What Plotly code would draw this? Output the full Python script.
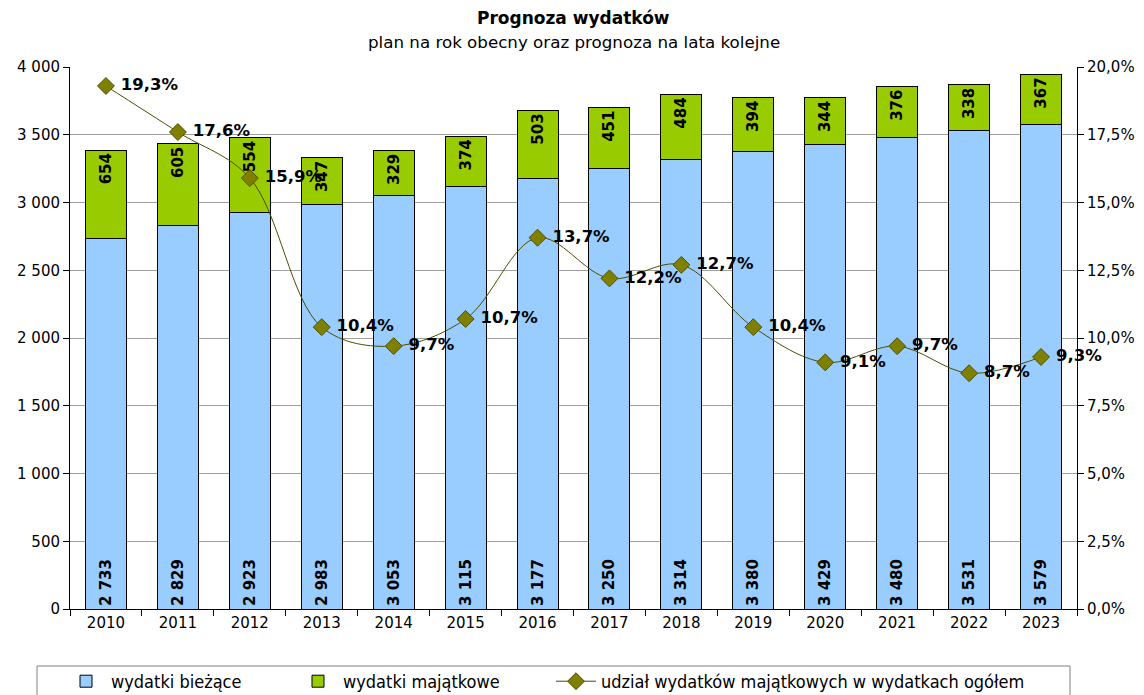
import plotly.graph_objects as go

years = ["2010","2011","2012","2013","2014","2015","2016","2017","2018","2019","2020","2021","2022","2023"]
biezace = [2733,2829,2923,2983,3053,3115,3177,3250,3314,3380,3429,3480,3531,3579]
majatkowe = [654,605,554,347,329,374,503,451,484,394,344,376,338,367]
udzial = [19.3,17.6,15.9,10.4,9.7,10.7,13.7,12.2,12.7,10.4,9.1,9.7,8.7,9.3]

FONT = "Verdana, DejaVu Sans, sans-serif"
LEGFONT = "DejaVu Sans Condensed, DejaVu Sans"

def fmt_int(v):
    return f"{v:,}".replace(",", " ")

fig = go.Figure()
fig.add_trace(go.Bar(
    x=years, y=biezace, name="wydatki bieżące", legend="legend",
    marker=dict(color="#99CCFF", line=dict(color="#000000", width=1)),
    text=[fmt_int(v) for v in biezace], textposition="inside",
    insidetextanchor="start", textangle=-90, constraintext="none",
    textfont=dict(family=FONT, size=15, color="black", weight="bold"),
    width=0.57,
))
fig.add_trace(go.Bar(
    x=years, y=majatkowe, name="wydatki majątkowe", legend="legend2",
    marker=dict(color="#99CC00", line=dict(color="#000000", width=1)),
    text=[fmt_int(v) for v in majatkowe], textposition="inside",
    insidetextanchor="end", textangle=-90, constraintext="none",
    textfont=dict(family=FONT, size=15, color="black", weight="bold"),
    width=0.57,
))
fig.add_trace(go.Scatter(
    x=years, y=udzial, name="udział wydatków majątkowych w wydatkach ogółem", legend="legend3",
    yaxis="y2", mode="lines+markers+text", cliponaxis=False,
    line=dict(color="#4D4D00", width=1, shape="spline", smoothing=1),
    marker=dict(symbol="diamond", size=13, color="#808000", line=dict(color="#4D4D00", width=1)),
    text=[" " + f"{v:.1f}".replace(".", ",") + "%" for v in udzial],
    textposition="middle right",
    textfont=dict(family=FONT, size=16.5, color="black", weight="bold"),
))

# page offset of 8px (body margin) compensated
OFF = 8
T, B, L, R = 67 - OFF, 86 + OFF, 70 - OFF, 67 + OFF
W, H = 1144, 695
ph = H - T - B
pw = W - L - R

def px2paper_x(px):
    return (px - OFF - L) / pw

def py2paper_y(py):
    return 1 - (py - OFF - T) / ph

def legend_at(page_x):
    return dict(orientation="h", x=(page_x - OFF) / W, xanchor="left", xref="container",
                y=1 - (663 - OFF) / H, yanchor="top", yref="container",
                borderwidth=0, bgcolor="rgba(0,0,0,0)",
                font=dict(size=18, family=LEGFONT), itemwidth=40)

fig.update_layout(
    width=W, height=H,
    barmode="stack",
    separators=", ",
    paper_bgcolor="white", plot_bgcolor="white",
    margin=dict(l=L, r=R, t=T, b=B, autoexpand=False),
    font=dict(family=FONT, size=15, color="black"),
    showlegend=True,
    legend=legend_at(61),
    legend2=legend_at(293),
    legend3=legend_at(551),
    xaxis=dict(type="category", range=[-0.5, 13.5], showline=True, linecolor="black", linewidth=1,
               ticks="outside", tickson="boundaries", ticklen=6, tickcolor="black",
               tickfont=dict(size=15), automargin=False),
    yaxis=dict(range=[0, 4000], dtick=500, tickformat=",d", showline=True, linecolor="black",
               ticks="outside", ticklen=6, tickcolor="black", showgrid=True, gridcolor="#A0A0A0",
               gridwidth=1, zeroline=False, tickfont=dict(size=15), automargin=False),
    yaxis2=dict(range=[0, 20], dtick=2.5, tickformat=".1f", ticksuffix="%", overlaying="y",
                side="right", showline=True, linecolor="black", ticks="outside", ticklen=6,
                tickcolor="black", showgrid=False, zeroline=False, tickfont=dict(size=15),
                automargin=False),
    shapes=[dict(type="rect", xref="paper", yref="paper",
                 x0=px2paper_x(37), x1=px2paper_x(1070),
                 y0=py2paper_y(666), y1=py2paper_y(705),
                 line=dict(color="#808080", width=1), fillcolor="rgba(0,0,0,0)", layer="below")],
    annotations=[
        dict(text="<b>Prognoza wydatków</b>", x=0.5, xref="paper", y=1 + (67 - 18) / ph,
             yref="paper", yanchor="middle", showarrow=False, font=dict(size=17)),
        dict(text="plan na rok obecny oraz prognoza na lata kolejne", x=0.5, xref="paper",
             y=1 + (67 - 42) / ph, yref="paper", yanchor="middle", showarrow=False,
             font=dict(size=16.7)),
    ],
)
fig.write_html("out.html")
